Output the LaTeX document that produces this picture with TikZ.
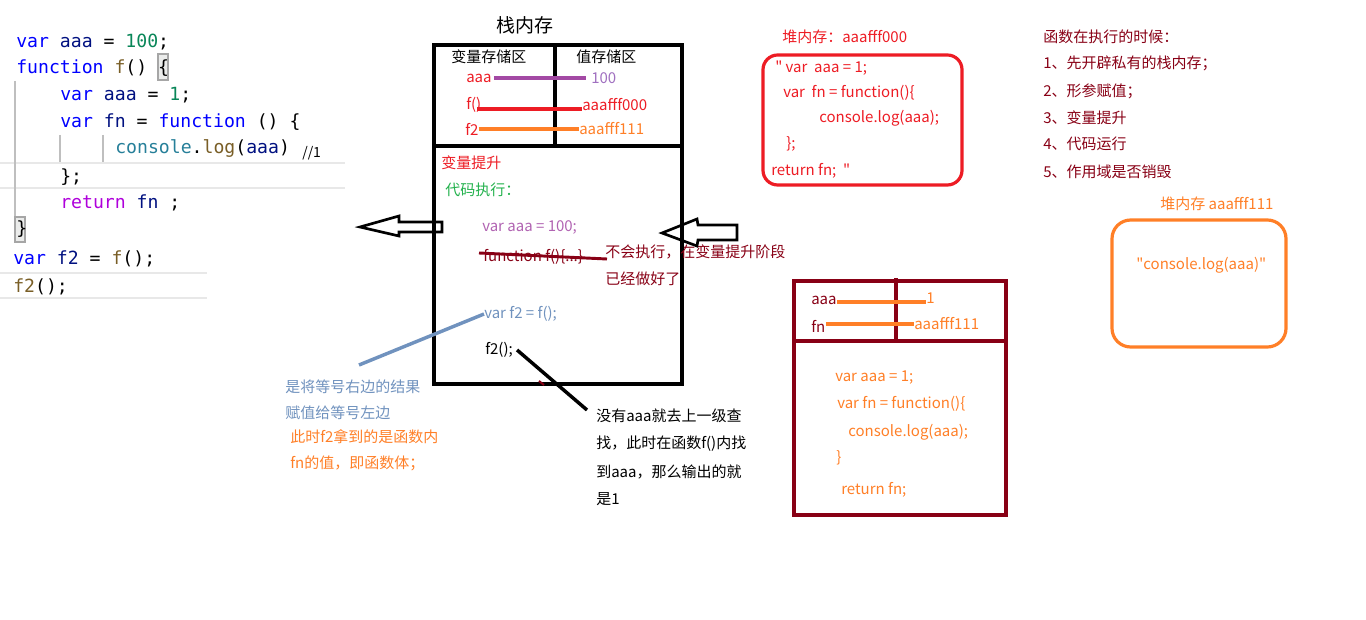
\documentclass[tikz,border=0pt]{standalone}
\usepackage{fontspec}
\setmainfont{Noto Sans CJK SC}
\newfontfamily\qfont{Noto Sans CJK SC}
\newfontfamily\codefnt{DejaVu Sans Mono}
\definecolor{pred}{HTML}{ED1C24}
\definecolor{porange}{HTML}{FF7F27}
\definecolor{pdred}{HTML}{880015}
\definecolor{ppurple}{HTML}{A349A4}
\definecolor{plpurple}{HTML}{A070C0}
\definecolor{pgreen}{HTML}{22B14C}
\definecolor{pblue}{HTML}{7092BE}
\definecolor{ckw}{HTML}{0000FF}
\definecolor{cvar}{HTML}{001080}
\definecolor{cnum}{HTML}{098658}
\definecolor{cfn}{HTML}{795E26}
\definecolor{ccls}{HTML}{267F99}
\definecolor{cret}{HTML}{AF00DB}
\newcommand\lblfont{\fontsize{11.25pt}{13pt}\selectfont}
\newcommand\codefont{\codefnt\fontsize{13.6pt}{16pt}\selectfont}
\newcommand\dq{{\qfont"}}
\tikzset{
  lbl/.style={anchor=west, inner sep=0pt, font=\lblfont},
  code/.style={anchor=west, inner sep=0pt, font=\codefont},
  boxline/.style={line width=2.4pt},
  conn/.style={line width=2.6pt},
  guide/.style={draw=black!25, line width=1pt},
  sep/.style={draw=black!9, line width=1.6pt},
  brace/.style={draw=black!35, fill=green!5!black!8, line width=0.8pt},
  fatarrow/.style={draw=black, line width=2pt, fill=white},
}
\begin{document}
\begin{tikzpicture}[x=0.75pt,y=-0.75pt]
\useasboundingbox (0,0) rectangle (1366,620);
% ---------------- code editor ----------------
\draw[sep] (0,163) -- (345,163);
\draw[sep] (0,188) -- (345,188);
\draw[sep] (0,273) -- (207,273);
\draw[sep] (0,298) -- (207,298);
\draw[guide] (15,81) -- (15,220);
\draw[guide] (60,135) -- (60,162);
\draw[guide] (103,135) -- (103,162);
\draw[brace] (158,54) rectangle (168,80);
\draw[brace] (15,217) rectangle (25,242);
\node[code] (c1) at (16,42) {\textcolor{ckw}{var} \textcolor{cvar}{aaa} = \textcolor{cnum}{100};};
\node[code] (c2) at (16,68) {\textcolor{ckw}{function} \textcolor{cfn}{f}() \{};
\node[code] (c3) at (60,95) {\textcolor{ckw}{var} \textcolor{cvar}{aaa} = \textcolor{cnum}{1};};
\node[code] (c4) at (60,122) {\textcolor{ckw}{var} \textcolor{cvar}{fn} = \textcolor{ckw}{function} () \{};
\node[code] (c5) at (115,149) {\textcolor{ccls}{console}.\textcolor{cfn}{log}(\textcolor{cvar}{aaa})};
\node[lbl, font=\fontsize{10.5pt}{12pt}\selectfont] (c5c) at (302,153) {//1};
\node[code] (c6) at (60,177) {\};};
\node[code] (c7) at (60,203) {\textcolor{cret}{return} \textcolor{cvar}{fn} ;};
\node[code] (c8) at (16,229) {\}};
\node[code] (c9) at (13,259) {\textcolor{ckw}{var} \textcolor{cvar}{f2} = \textcolor{cfn}{f}();};
\node[code] (c10) at (13,287) {\textcolor{cfn}{f2}();};
% ---------------- stack memory ----------------
\node[lbl, font=\fontsize{14.25pt}{16pt}\selectfont] (stitle) at (496,25) {栈内存};
\draw[boxline] (434,45) rectangle (682,384);
\draw[boxline] (434,146) -- (682,146);
\draw[boxline] (555,45) -- (555,146);
\node[lbl] (h1) at (451,57) {变量存储区};
\node[lbl] (h2) at (576,57) {值存储区};
\node[lbl, text=pred] (vaaa) at (466,78) {aaa};
\node[lbl, text=plpurple] (v100) at (591,78) {100};
\draw[conn, draw=ppurple] (vaaa.east) ++(2,0) -- ([xshift=-4pt]v100.west);
\node[lbl, text=pred] (vf) at (466,105) {f()};
\node[lbl, text=pred] (vaf0) at (582,105) {aaafff000};
\coordinate (fl1) at (477,109);
\coordinate (fl2) at (568,109);
\draw[conn, draw=pred] (fl1) -- (fl2) -- (vaf0.west |- fl2);
\node[lbl, text=pred] (vf2) at (465,129) {f2};
\node[lbl, text=porange] (vaf1) at (579,129) {aaafff111};
\draw[conn, draw=porange] (vf2.east) -- (vaf1.west);
\node[lbl, text=pred] (hoist) at (441,163) {变量提升};
\node[lbl, text=pgreen] (exec) at (445,190) {代码执行：};
\node[lbl, text=ppurple!85] (s1) at (482,227) {var aaa = 100;};
\node[lbl, text=pdred] (s2) at (483,257) {function f()\{...\}};
\coordinate (st1) at (479,253);
\coordinate (st2) at (607,259);
\draw[line width=2.2pt, draw=pdred] (st1) -- (st2);
\node[lbl, text=pdred] (n1) at (605,252) {不会执行，在变量提升阶段};
\node[lbl, text=pdred] (n2) at (605,279) {已经做好了};
\node[lbl, text=pblue] (s3) at (484,314) {var f2 = f();};
\node[lbl] (s4) at (485,350) {f2();};
\draw[fatarrow] (442,222) -- (399,222) -- (399,216) -- (360,227) -- (399,236) -- (399,232) -- (442,232) -- cycle;
\draw[fatarrow] (737,225) -- (698,225) -- (697,219) -- (662,233) -- (697,246) -- (698,240) -- (737,240) -- cycle;
\draw[boxline] (434,215) -- (434,245);
\draw[boxline] (682,215) -- (682,250);
\draw[line width=1.5pt, draw=pdred] (539,381) -- (544,385);
% left annotations
\coordinate (bl) at (359,365);
\draw[conn, draw=pblue] (s3.west) -- (bl);
\node[lbl, text=pblue] (a1) at (285,387) {是将等号右边的结果};
\node[lbl, text=pblue] (a2) at (285,413) {赋值给等号左边};
\node[lbl, text=porange] (a3) at (290,437) {此时f2拿到的是函数内};
\node[lbl, text=porange] (a4) at (290,463) {fn的值，即函数体；};
\node[lbl] (b1) at (596,416) {没有aaa就去上一级查};
\node[lbl] (b2) at (596,444) {找，此时在函数f()内找};
\node[lbl] (b3) at (596,472) {到aaa，那么输出的就};
\node[lbl] (b4) at (596,499) {是1};
\coordinate (kl) at (587,410);
\draw[conn] ([xshift=3pt]s4.east) -- (kl);
% ---------------- heap aaafff000 ----------------
\node[lbl, text=pred] (ht1) at (782,37) {堆内存：aaafff000};
\draw[boxline, draw=pred, rounded corners=11pt] (763,55) rectangle (962,185);
\node[lbl, text=pred] (hc1) at (775,68) {\dq\ var\ \ aaa = 1;};
\node[lbl, text=pred] (hc2) at (783,93) {var\ \ fn = function()\{};
\node[lbl, text=pred] (hc3) at (819,118) {console.log(aaa);};
\node[lbl, text=pred] (hc4) at (786,144) {\};};
\node[lbl, text=pred] (hc5) at (771,171) {return fn;\ \ \dq};
% ---------------- right list ----------------
\node[lbl, text=pdred] (r0) at (1043,37) {函数在执行的时候：};
\node[lbl, text=pdred] (r1) at (1043,63) {1、先开辟私有的栈内存；};
\node[lbl, text=pdred] (r2) at (1043,91) {2、形参赋值；};
\node[lbl, text=pdred] (r3) at (1043,118) {3、变量提升};
\node[lbl, text=pdred] (r4) at (1043,144) {4、代码运行};
\node[lbl, text=pdred] (r5) at (1043,172) {5、作用域是否销毁};
% ---------------- heap aaafff111 ----------------
\node[lbl, text=porange] (ht2) at (1160,204) {堆内存 aaafff111};
\draw[boxline, draw=porange, rounded corners=14pt] (1112,220) rectangle (1286,347);
\node[lbl, text=porange] (hh1) at (1136,265) {\dq console.log(aaa)\dq};
% ---------------- scope of f ----------------
\draw[boxline, draw=pdred] (794,281) rectangle (1006,515);
\draw[boxline, draw=pdred] (794,341) -- (1006,341);
\draw[boxline, draw=pdred] (896,278) -- (896,341);
\node[lbl, text=pdred] (saaa) at (811,300) {aaa};
\node[lbl, text=pdred] (sfn) at (811,326) {fn};
\node[lbl, text=porange] (s1v) at (926,298) {1};
\node[lbl, text=porange] (sfv) at (914,324) {aaafff111};
\draw[conn, draw=porange] (saaa.east |- 0,302) -- (s1v.west |- 0,302);
\draw[conn, draw=porange] (826,324) -- (sfv.west);
\node[lbl, text=porange] (sc1) at (835,378) {var aaa = 1;};
\node[lbl, text=porange] (sc2) at (837,404) {var fn = function()\{};
\node[lbl, text=porange] (sc3) at (848,432) {console.log(aaa);};
\node[lbl, text=porange] (sc4) at (836,458) {\}};
\node[lbl, text=porange] (sc5) at (841,490) {return fn;};
\end{tikzpicture}
\end{document}
